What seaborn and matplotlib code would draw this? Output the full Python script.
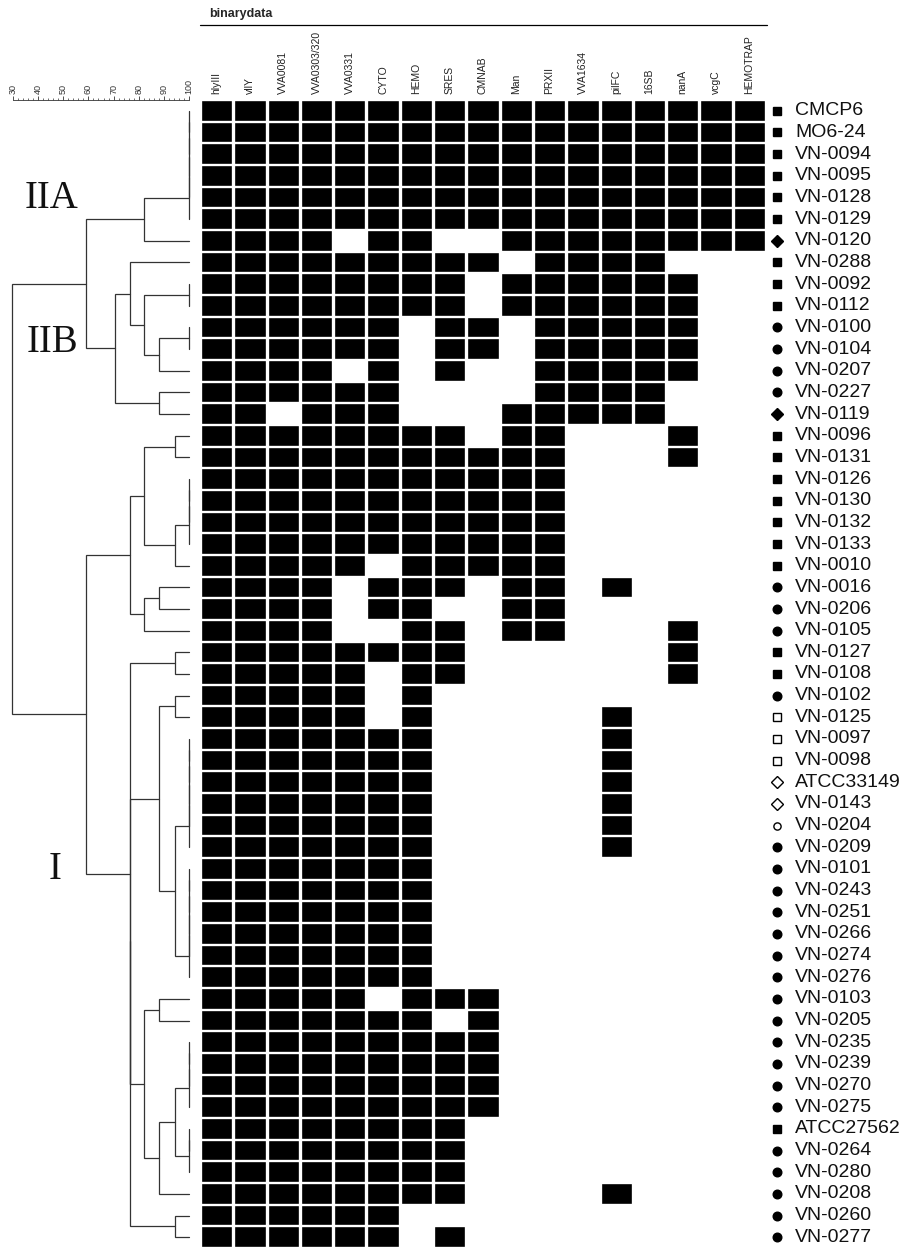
import numpy as np
import pandas as pd
import matplotlib
matplotlib.use("Agg")
import matplotlib.pyplot as plt
import matplotlib.transforms as mtransforms
from matplotlib.colors import ListedColormap
from matplotlib.lines import Line2D
from matplotlib.ticker import MultipleLocator
import seaborn as sns

genes = ["hlyIII", "vllY", "VVA0081", "VVA0303/320", "VVA0331", "CYTO", "HEMO",
         "SRES", "CMNAB", "Man", "PRXII", "VVA1634", "pilFC", "16SB", "nanA",
         "vcgC", "HEMOTRAP"]

strains = ["CMCP6", "MO6-24", "VN-0094", "VN-0095", "VN-0128", "VN-0129", "VN-0120",
           "VN-0288", "VN-0092", "VN-0112", "VN-0100", "VN-0104", "VN-0207", "VN-0227",
           "VN-0119", "VN-0096", "VN-0131", "VN-0126", "VN-0130", "VN-0132", "VN-0133",
           "VN-0010", "VN-0016", "VN-0206", "VN-0105", "VN-0127", "VN-0108", "VN-0102",
           "VN-0125", "VN-0097", "VN-0098", "ATCC33149", "VN-0143", "VN-0204", "VN-0209",
           "VN-0101", "VN-0243", "VN-0251", "VN-0266", "VN-0274", "VN-0276", "VN-0103",
           "VN-0205", "VN-0235", "VN-0239", "VN-0270", "VN-0275", "ATCC27562", "VN-0264",
           "VN-0280", "VN-0208", "VN-0260", "VN-0277"]

# sq = filled square, ci = filled circle, di = filled diamond,
# osq / odi / oci = open versions
groups = ["sq", "sq", "sq", "sq", "sq", "sq", "di",
          "sq", "sq", "sq", "ci", "ci", "ci", "ci",
          "di", "sq", "sq", "sq", "sq", "sq", "sq",
          "sq", "ci", "ci", "ci", "sq", "sq", "ci",
          "osq", "osq", "osq", "odi", "odi", "oci", "ci",
          "ci", "ci", "ci", "ci", "ci", "ci", "ci",
          "ci", "ci", "ci", "ci", "ci", "sq", "ci",
          "ci", "ci", "ci", "ci"]

profiles = ["11111111111111111", "11111111111111111", "11111111111111111",
            "11111111111111111", "11111111111111111", "11111111111111111",
            "11110110011111111", "11111111101111000", "11111111011111100",
            "11111111011111100", "11111101101111100", "11111101101111100",
            "11110101001111100", "11111100001111000", "11011100011111000",
            "11111111011000100", "11111111111000100", "11111111111000000",
            "11111111111000000", "11111111111000000", "11111111111000000",
            "11111011111000000", "11110111011010000", "11110110011000000",
            "11110011011000100", "11111111000000100", "11111011000000100",
            "11111010000000000", "11111010000010000", "11111110000010000",
            "11111110000010000", "11111110000010000", "11111110000010000",
            "11111110000010000", "11111110000010000", "11111110000000000",
            "11111110000000000", "11111110000000000", "11111110000000000",
            "11111110000000000", "11111110000000000", "11111011100000000",
            "11111110100000000", "11111111100000000", "11111111100000000",
            "11111111100000000", "11111111100000000", "11111111000000000",
            "11111111000000000", "11111111000000000", "11111111000010000",
            "11111100000000000", "11111101000000000"]

# dendrogram merges: (child a, child b, similarity %), ids >= 53 are earlier merges
merges = [(0, 1, 100), (53, 2, 100), (54, 3, 100), (55, 4, 100), (56, 5, 100),
          (57, 6, 82.1), (8, 9, 100), (10, 11, 100), (60, 12, 88.1), (59, 61, 82.1),
          (7, 62, 76.5), (13, 14, 88.1), (63, 64, 70.6), (58, 65, 59.1),
          (15, 16, 94.4), (17, 18, 100), (68, 19, 100), (69, 20, 100), (70, 21, 94.4),
          (67, 71, 82.1), (22, 23, 88.1), (73, 24, 82.1), (72, 74, 76.5),
          (25, 26, 94.4), (27, 28, 94.4), (29, 30, 100), (78, 31, 100), (79, 32, 100),
          (80, 33, 100), (81, 34, 100), (35, 36, 100), (83, 37, 100), (84, 38, 100),
          (85, 39, 100), (86, 40, 100), (82, 87, 94.4), (77, 88, 88.1),
          (41, 42, 88.1), (43, 44, 100), (91, 45, 100), (92, 46, 100),
          (47, 48, 100), (94, 49, 100), (93, 95, 94.4), (96, 50, 88.1),
          (90, 97, 82.1), (51, 52, 94.4), (89, 98, 76.5), (100, 99, 76.5),
          (76, 101, 76.5), (75, 102, 59.1), (66, 103, 29.6)]

cluster_names = ["IIA", "IIB", "I"]

df = pd.DataFrame([[int(c) for c in p] for p in profiles], index=strains, columns=genes)

sns.set_style("white")
plt.rcParams['font.family'] = ['Liberation Sans', 'DejaVu Sans']

W, H = 910, 1248
fig = plt.figure(figsize=(W / 100, H / 100), dpi=100)

top = 100
ax_d = fig.add_axes([12.7 / W, 0, 176.6 / W, (H - top) / H])
ax_h = fig.add_axes([200 / W, 0, 566 / W, (H - top) / H])

# heatmap
sns.heatmap(df, ax=ax_h, cmap=ListedColormap(["white", "black"]), vmin=0, vmax=1,
            cbar=False, linewidths=0, xticklabels=True, yticklabels=False)
n_rows, n_cols = df.shape
ax_h.hlines(np.arange(n_rows + 1), 0, n_cols, color="white", lw=1.7)
ax_h.vlines(np.arange(n_cols + 1), 0, n_rows, color="white", lw=2.4)
ax_h.set_xlim(0, n_cols)
ax_h.set_ylim(n_rows, 0)
ax_h.xaxis.tick_top()
ax_h.set_xticklabels(genes, rotation=90, fontsize=7.5, color="#222222")
ax_h.tick_params(axis="x", length=0, pad=4)
ax_h.set_xlabel("")
ax_h.set_ylabel("")
for s in ax_h.spines.values():
    s.set_visible(False)

# strain labels with symbols
trans = mtransforms.blended_transform_factory(ax_h.transAxes, ax_h.transData)
marker_styles = {
    "sq": dict(marker="s", ms=6, mfc="black", mec="black"),
    "ci": dict(marker="o", ms=6.2, mfc="black", mec="black"),
    "di": dict(marker="D", ms=6.3, mfc="black", mec="black"),
    "osq": dict(marker="s", ms=6, mfc="white", mec="black", mew=1),
    "odi": dict(marker="D", ms=6, mfc="white", mec="black", mew=1),
    "oci": dict(marker="o", ms=5.2, mfc="white", mec="black", mew=1),
}
for i, (name, g) in enumerate(zip(strains, groups)):
    ax_h.plot([1.0194], [i + 0.5], transform=trans, clip_on=False, ls="none",
              **marker_styles[g])
    ax_h.text(1.0512, i + 0.5, name, transform=trans, fontsize=14,
              va="center", ha="left", color="#111111")

# dendrogram
n = len(strains)
pos_y = {i: i + 0.5 for i in range(n)}
pos_x = {i: 100.0 for i in range(n)}
for k, (a, b, s) in enumerate(merges):
    ya, yb = pos_y[a], pos_y[b]
    ax_d.plot([pos_x[a], s, s, pos_x[b]], [ya, ya, yb, yb], color="#333333",
              lw=0.9, clip_on=False, solid_joinstyle="miter")
    pos_y[n + k] = (ya + yb) / 2
    pos_x[n + k] = s

ax_d.set_xlim(30, 100)
ax_d.set_ylim(n, 0)
ax_d.set_yticks([])
ax_d.xaxis.tick_top()
ax_d.xaxis.set_major_locator(MultipleLocator(10))
ax_d.xaxis.set_minor_locator(MultipleLocator(2))
ax_d.tick_params(axis="x", which="major", direction="out", length=3, width=0.6,
                 labelsize=6.5, labelrotation=90, pad=1, colors="#333333")
ax_d.tick_params(axis="x", which="minor", direction="out", length=1.5, width=0.5,
                 colors="#333333")
for side in ["left", "right", "bottom"]:
    ax_d.spines[side].set_visible(False)
ax_d.spines["top"].set_linewidth(0.6)
ax_d.spines["top"].set_color("#333333")
ax_d.patch.set_alpha(0)

label_pos = [(45.2, 4.55), (45.6, 11.19), (46.6, 35.53)]
for name, (x, y) in zip(cluster_names, label_pos):
    ax_d.text(x, y, name, fontsize=28, family="Liberation Serif",
              ha="center", va="center", color="#111111")

# header
fig.text(209 / W, 1 - 14.5 / H, "binarydata", fontsize=9, weight="bold",
         ha="left", va="center")
fig.add_artist(Line2D([200 / W, 767 / W], [1 - 25 / H, 1 - 25 / H],
                      color="black", lw=0.9))

fig.savefig("out.png", dpi=100)
